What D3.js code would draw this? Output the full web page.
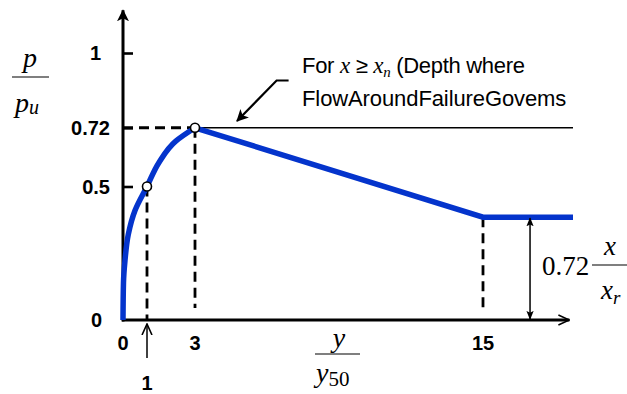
<!DOCTYPE html>
<html><head><meta charset="utf-8">
<script src="https://cdn.jsdelivr.net/npm/d3@7"></script>
<style>body{margin:0;background:#fff}svg{display:block}</style>
</head><body>
<svg id="c" width="627" height="394"></svg>
<script>
// ---- data ----
const curveX = [0, 0.02, 0.08, 0.22, 0.5, 1, 1.5, 2.2, 3];
const curveY = [0, 0.14, 0.22, 0.32, 0.41, 0.5, 0.59, 0.67, 0.72];
const lineX = [3, 15, 18.75];
const lineY = [0.72, 0.385, 0.385];
const yTicks = [0, 0.5, 0.72, 1];
const yTickLabels = ["0", "0.5", "0.72", "1"];
const xTicks = [0, 3, 15];
const xTickLabels = ["0", "3", "15"];
const markX = [1, 3];
const markY = [0.5, 0.72];
const xMax = 18.6, yMax = 1.16;

const svg = d3.select("#c");
const x = d3.scaleLinear().domain([0, 15]).range([123, 483]);
const y = d3.scaleLinear().domain([0, 1]).range([320, 53]);
const blue = "#0434cc";
const sans = "'Liberation Sans', Arial, sans-serif";
const serif = "'Liberation Serif', 'Times New Roman', serif";

const defs = svg.append("defs");
defs.append("marker").attr("id","fa").attr("viewBox","0 0 12 12").attr("refX",11).attr("refY",6)
  .attr("markerWidth",12).attr("markerHeight",12).attr("markerUnits","userSpaceOnUse").attr("orient","auto")
  .append("path").attr("d","M0,0 L12,6 L0,12 L3,6 Z").attr("fill","#000");
defs.append("marker").attr("id","open").attr("viewBox","0 0 12 12").attr("refX",11).attr("refY",6)
  .attr("markerWidth",12).attr("markerHeight",12).attr("markerUnits","userSpaceOnUse").attr("orient","auto")
  .append("path").attr("d","M0,1 L11,6 L0,11").attr("fill","none").attr("stroke","#000").attr("stroke-width",1.6);
defs.append("marker").attr("id","small").attr("viewBox","0 0 10 10").attr("refX",9).attr("refY",5)
  .attr("markerWidth",9).attr("markerHeight",9).attr("markerUnits","userSpaceOnUse").attr("orient","auto-start-reverse")
  .append("path").attr("d","M0,1 L10,5 L0,9 L2,5 Z").attr("fill","#000");

// dashed guides
const dash = svg.append("g").attr("stroke","#000").attr("stroke-width",2.8).attr("stroke-dasharray","10,6").attr("fill","none");
dash.append("line").attr("x1",x(0)).attr("x2",x(3)).attr("y1",y(0.72)).attr("y2",y(0.72));
dash.append("line").attr("x1",x(3)).attr("x2",x(3)).attr("y1",y(0.72)).attr("y2",y(0.045));
dash.append("line").attr("x1",x(1)).attr("x2",x(1)).attr("y1",y(0.5)).attr("y2",y(0));
dash.append("line").attr("x1",x(15)).attr("x2",x(15)).attr("y1",y(0.385)).attr("y2",y(0.03));

// thin horizontal at 0.72
svg.append("line").attr("x1",x(3)).attr("x2",x(18.75)).attr("y1",y(0.72)).attr("y2",y(0.72))
  .attr("stroke","#000").attr("stroke-width",1.6);

// axes
svg.append("line").attr("x1",x(0)).attr("x2",x(0)).attr("y1",y(-0.006)).attr("y2",y(yMax))
  .attr("stroke","#000").attr("stroke-width",3).attr("marker-end","url(#fa)");
svg.append("line").attr("x1",x(0)-1).attr("x2",x(xMax)).attr("y1",y(0)).attr("y2",y(0))
  .attr("stroke","#000").attr("stroke-width",3).attr("marker-end","url(#open)");

const yAxis = d3.axisRight(y).tickValues([0.5, 0.72, 1]).tickSize(10).tickFormat("");
const ga = svg.append("g").attr("transform",`translate(${x(0)},0)`).call(yAxis);
ga.select(".domain").remove();
ga.selectAll(".tick line").attr("stroke","#000").attr("stroke-width",2.6);

// y tick labels
const yLabelRight = {"0":102,"0.5":110,"0.72":110,"1":101};
svg.selectAll("text.yt").data(yTicks).join("text").attr("class","yt")
  .attr("x",(d,i)=>yLabelRight[yTickLabels[i]]).attr("y",d=>y(d)+7)
  .attr("text-anchor","end").attr("font-family",sans).attr("font-weight","bold").attr("font-size",20)
  .text((d,i)=>yTickLabels[i]);

// x tick labels
svg.selectAll("text.xt").data(xTicks).join("text").attr("class","xt")
  .attr("x",d=>x(d)).attr("y",350).attr("text-anchor","middle")
  .attr("font-family",sans).attr("font-weight","bold").attr("font-size",20)
  .text((d,i)=>xTickLabels[i]);
// arrow pointing at 1
svg.append("line").attr("x1",x(1)).attr("x2",x(1)).attr("y1",358).attr("y2",y(0)+4)
  .attr("stroke","#000").attr("stroke-width",1.5).attr("marker-end","url(#open)");
svg.append("text").attr("x",x(1)).attr("y",390).attr("text-anchor","middle")
  .attr("font-family",sans).attr("font-weight","bold").attr("font-size",20).text("1");

// curve
const pts = curveX.map((d,i)=>[d,curveY[i]]);
svg.append("path").datum(pts)
  .attr("d", d3.line().x(d=>x(d[0])).y(d=>y(d[1])).curve(d3.curveMonotoneY))
  .attr("fill","none").attr("stroke",blue).attr("stroke-width",5.5).attr("stroke-linecap","butt");
const lpts = lineX.map((d,i)=>[d,lineY[i]]);
svg.append("path").datum(lpts)
  .attr("d", d3.line().x(d=>x(d[0])).y(d=>y(d[1])))
  .attr("fill","none").attr("stroke",blue).attr("stroke-width",5.5).attr("stroke-linejoin","miter");

// markers
svg.selectAll("circle.m").data(markX).join("circle").attr("class","m")
  .attr("cx",d=>x(d)).attr("cy",(d,i)=>y(markY[i])).attr("r",4.5)
  .attr("fill","#fff").attr("stroke","#000").attr("stroke-width",1.6);

// double arrow
svg.append("line").attr("x1",x(16.96)).attr("x2",x(16.96)).attr("y1",y(0.385)+1).attr("y2",y(0)-1)
  .attr("stroke","#000").attr("stroke-width",1.5)
  .attr("marker-start","url(#small)").attr("marker-end","url(#small)");

// 0.72 x/x_r
svg.append("text").attr("x",542).attr("y",275).attr("font-family",serif).attr("font-size",27).text("0.72");
svg.append("line").attr("x1",592).attr("x2",627).attr("y1",265).attr("y2",265).attr("stroke","#000").attr("stroke-width",1.2);
svg.append("text").attr("x",610).attr("y",255).attr("text-anchor","middle").attr("font-family",serif).attr("font-style","italic").attr("font-size",27).text("x");
const xr = svg.append("text").attr("x",601).attr("y",299).attr("font-family",serif).attr("font-style","italic").attr("font-size",27);
xr.append("tspan").text("x");
xr.append("tspan").attr("font-size",19).attr("dy",5).text("r");

// y label p/p_u
svg.append("text").attr("x",30).attr("y",67).attr("text-anchor","middle").attr("font-family",serif).attr("font-style","italic").attr("font-size",28).text("p");
svg.append("line").attr("x1",12).attr("x2",49).attr("y1",77).attr("y2",77).attr("stroke","#000").attr("stroke-width",1.2);
const pu = svg.append("text").attr("x",15).attr("y",112).attr("font-family",serif).attr("font-style","italic").attr("font-size",28);
pu.append("tspan").text("p");
pu.append("tspan").attr("font-size",20).attr("dy",2).text("u");

// x label y/y50
svg.append("text").attr("x",339).attr("y",347).attr("text-anchor","middle").attr("font-family",serif).attr("font-style","italic").attr("font-size",28).text("y");
svg.append("line").attr("x1",315).attr("x2",360).attr("y1",354).attr("y2",354).attr("stroke","#000").attr("stroke-width",1.2);
const y50 = svg.append("text").attr("x",316).attr("y",382).attr("font-family",serif).attr("font-size",28);
y50.append("tspan").attr("font-style","italic").text("y");
y50.append("tspan").attr("font-size",21).attr("dy",4).text("50");

// annotation
const a1 = svg.append("text").attr("x",302).attr("y",73).attr("font-family",sans).attr("font-size",22).attr("letter-spacing",-0.3);
a1.append("tspan").text("For ");
a1.append("tspan").attr("font-family",serif).attr("font-style","italic").attr("font-size",23).text("x");
a1.append("tspan").text(" ≥ ");
a1.append("tspan").attr("font-family",serif).attr("font-style","italic").attr("font-size",23).text("x");
a1.append("tspan").attr("font-family",serif).attr("font-style","italic").attr("font-size",15).attr("dy",4).text("n");
a1.append("tspan").attr("dy",-4).text(" (Depth where");
svg.append("text").attr("x",302).attr("y",106).attr("font-family",sans).attr("font-size",22).attr("letter-spacing",-0.1)
  .text("FlowAroundFailureGovems");
svg.append("path")
  .attr("d",`M${x(6.9)},${y(0.897)} L${x(6.4)},${y(0.897)} L${x(4.75)},${y(0.745)}`)
  .attr("fill","none").attr("stroke","#000").attr("stroke-width",2.2).attr("marker-end","url(#fa)");
</script>
</body></html>
